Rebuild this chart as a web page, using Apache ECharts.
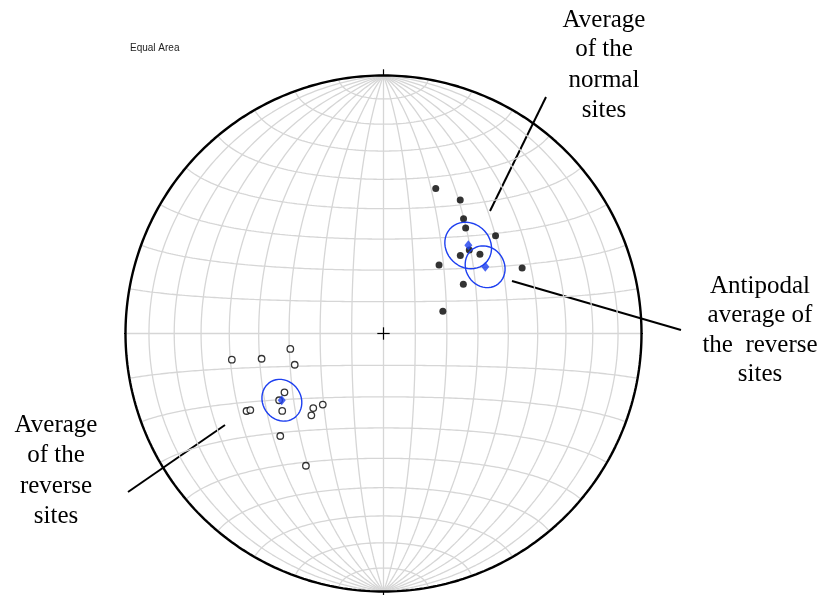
<!DOCTYPE html>
<html>
<head>
<meta charset="utf-8">
<script src="https://cdn.jsdelivr.net/npm/echarts@6/dist/echarts.min.js"></script>
<style>
  html, body { margin: 0; padding: 0; background: #ffffff; }
  #chart { width: 826px; height: 595px; }
</style>
</head>
<body>
<div id="chart"></div>
<script>
// Site-mean directions, declination / inclination in degrees
const normalDec = [19.8, 29.9, 34.9, 37.9, 48.9, 44.6, 50.6, 39.0, 64.7, 58.3, 69.5, 45.8];
const normalInc = [40.0, 40.1, 44.9, 47.0, 41.9, 55.1, 50.0, 62.0, 40.3, 60.2, 70.0, 51.7];
const reverseDec = [260.2, 258.3, 260.6, 250.6, 239.3, 237.4, 232.6, 240.5, 240.1, 223.3, 220.5, 221.4, 225.2, 210.4];
const reverseInc = [-40.1, -50.1, -60.0, -60.1, -53.2, -50.3, -49.1, -38.9, -40.2, -57.4, -60.3, -55.2, -43.0, -40.3];

// Fisher means of each polarity group with their alpha95 cones
const meanNames = ['normal', 'reverse'];
const meanDec = [43.9, 236.7];
const meanInc = [50.8, -51.0];
const meanA95 = [7.3, 6.4];

// Net spacing in degrees
const netStep = 10;

const RAD = Math.PI / 180;

// Lower-hemisphere equal-area projection, unit primitive
function project(dec, inc) {
  const r = Math.sqrt(1 - Math.sin(Math.abs(inc) * RAD));
  return [r * Math.sin(dec * RAD), r * Math.cos(dec * RAD)];
}

// Cone of confidence around a direction
function cone(dec, inc, a) {
  const I = Math.abs(inc) * RAD, D = dec * RAD;
  const m = [Math.cos(I) * Math.cos(D), Math.cos(I) * Math.sin(D), Math.sin(I)];
  const u = [-Math.sin(I) * Math.cos(D), -Math.sin(I) * Math.sin(D), Math.cos(I)];
  const v = [-Math.sin(D), Math.cos(D), 0];
  const c = Math.cos(a * RAD), s = Math.sin(a * RAD);
  const pts = [];
  for (let t = 0; t <= 360; t += 4) {
    const ct = Math.cos(t * RAD), st = Math.sin(t * RAD);
    const p = [0, 1, 2].map(k => c * m[k] + s * (ct * u[k] + st * v[k]));
    pts.push(project(Math.atan2(p[1], p[0]) / RAD, Math.asin(p[2]) / RAD));
  }
  return pts;
}

// Schmidt net: transverse Lambert azimuthal equal-area graticule
function netPoint(lat, lon) {
  const phi = lat * RAD, lam = lon * RAD;
  const k = Math.sqrt(1 / (1 + Math.cos(phi) * Math.cos(lam)));
  return [k * Math.cos(phi) * Math.sin(lam), k * Math.sin(phi)];
}

const series = [];
const netStyle = { color: '#d6d6d6', width: 1.3 };
function addLine(data, style, z) {
  series.push({
    type: 'line', data: data, showSymbol: false, symbol: 'none',
    clip: false, silent: true, z: z, lineStyle: style, animation: false
  });
}

// great circles (meridians)
for (let lon = -90 + netStep; lon < 90; lon += netStep) {
  const d = [];
  for (let lat = -90; lat <= 90; lat += 1) d.push(netPoint(lat, lon));
  addLine(d, netStyle, 1);
}
// small circles (parallels)
for (let lat = -90 + netStep; lat < 90; lat += netStep) {
  const d = [];
  for (let lon = -90; lon <= 90; lon += 1) d.push(netPoint(lat, lon));
  addLine(d, netStyle, 1);
}

// primitive circle
const prim = [];
for (let a = 0; a <= 360; a += 1) prim.push([Math.sin(a * RAD), Math.cos(a * RAD)]);
addLine(prim, { color: '#000000', width: 2.4 }, 3);

// cardinal ticks and centre cross
const tk = 0.024;
const tickStyle = { color: '#000000', width: 1.2 };
addLine([[0, 1], [0, 1 + tk]], tickStyle, 3);
addLine([[0, -1], [0, -1 - tk]], tickStyle, 3);
addLine([[1, 0], [1 + tk, 0]], tickStyle, 3);
addLine([[-1, 0], [-1 - tk, 0]], tickStyle, 3);
addLine([[-tk, 0], [tk, 0]], tickStyle, 3);
addLine([[0, -tk], [0, tk]], tickStyle, 3);

// site directions
series.push({
  type: 'scatter', z: 5, animation: false, silent: true,
  symbol: 'circle', symbolSize: 7,
  itemStyle: { color: '#000000' },
  data: normalDec.map((d, i) => project(d, normalInc[i]))
});
series.push({
  type: 'scatter', z: 5, animation: false, silent: true,
  symbol: 'circle', symbolSize: 6.5,
  itemStyle: { color: '#ffffff', borderColor: '#000000', borderWidth: 1.3 },
  data: reverseDec.map((d, i) => project(d, reverseInc[i]))
});

// means: normal, reverse, and antipode of the reverse mean
const blue = '#1d3ff0';
const meanDirs = [
  [meanDec[0], meanInc[0], meanA95[0]],
  [meanDec[1], meanInc[1], meanA95[1]],
  [(meanDec[1] + 180) % 360, -meanInc[1], meanA95[1]]
];
meanDirs.forEach(m => {
  addLine(cone(m[0], m[1], m[2]), { color: blue, width: 1.4 }, 6);
});
series.push({
  type: 'scatter', z: 7, animation: false, silent: true,
  symbol: 'diamond', symbolSize: [8, 10],
  itemStyle: { color: blue },
  data: meanDirs.map(m => project(m[0], m[1]))
});

const serif = 'Liberation Serif';
function label(lines, cx, ys) {
  return lines.map((t, i) => ({
    type: 'text', x: cx, y: ys[i], silent: true,
    style: { text: t, fill: '#000000', font: '25px "' + serif + '"', align: 'center', verticalAlign: 'middle' }
  }));
}
function leader(x1, y1, x2, y2) {
  return { type: 'line', silent: true, shape: { x1, y1, x2, y2 }, style: { stroke: '#000000', lineWidth: 2 } };
}

const chart = echarts.init(document.getElementById('chart'), null, { renderer: 'canvas' });
chart.setOption({
  animation: false,
  backgroundColor: '#ffffff',
  grid: { left: 125.5, top: 75.5, width: 516, height: 516 },
  xAxis: { type: 'value', min: -1, max: 1, show: false },
  yAxis: { type: 'value', min: -1, max: 1, show: false },
  series: series,
  graphic: [
    { type: 'text', x: 130, y: 48, silent: true,
      style: { text: 'Equal Area', fill: '#222222', font: '10px "Liberation Sans"', align: 'left', verticalAlign: 'middle' } },
    ...label(['Average', 'of the', 'normal', 'sites'], 604, [20, 49, 80, 110]),
    ...label(['Antipodal', 'average of', 'the  reverse', 'sites'], 760, [286, 315, 345, 374]),
    ...label(['Average', 'of the', 'reverse', 'sites'], 56, [425, 455, 486, 516]),
    leader(546, 97, 490, 211),
    leader(512, 281, 681, 330),
    leader(128, 492, 225, 425)
  ]
});
</script>
</body>
</html>
